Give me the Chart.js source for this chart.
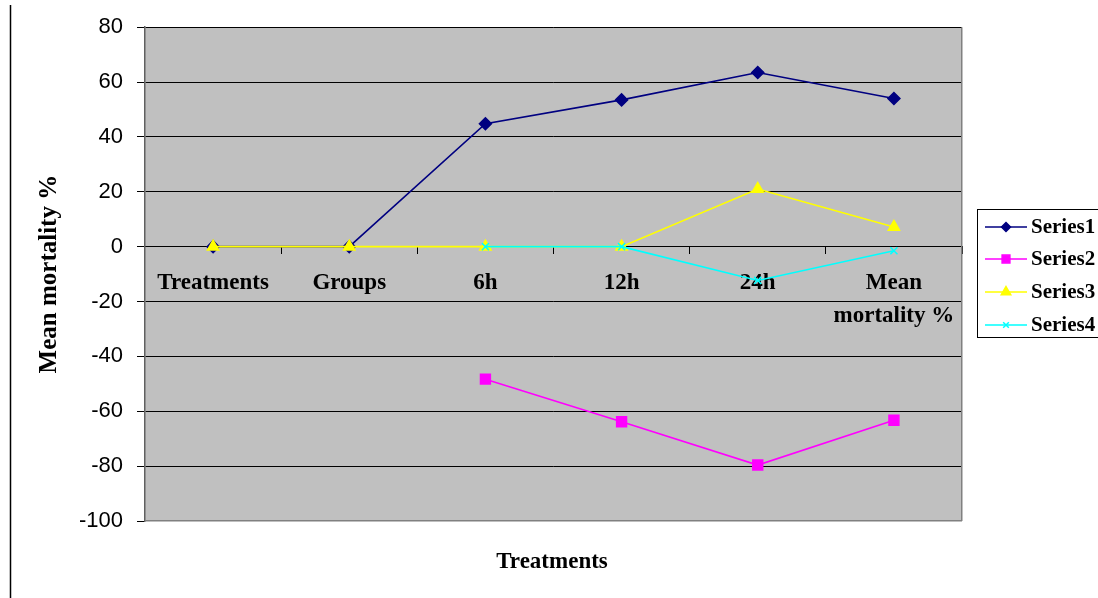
<!DOCTYPE html>
<html>
<head>
<meta charset="utf-8">
<script src="https://cdn.jsdelivr.net/npm/chart.js@4.4.1/dist/chart.umd.min.js"></script>
<style>
html,body{margin:0;padding:0;background:#ffffff;}
canvas{display:block;}
</style>
</head>
<body>
<canvas id="c" width="1098" height="598"></canvas>
<script>
// ---- data ----
const categories = ['Treatments', 'Groups', '6h', '12h', '24h', ['Mean', 'mortality %']];
const series1 = [0, 0, 44.8, 53.5, 63.5, 54.0];
const series2 = [null, null, -48.3, -63.8, -79.6, -63.3];
const series3 = [0, 0, 0, 0, 21.0, 7.2];
const series4 = [null, null, 0, 0, -12.3, -1.5];
const seriesNames = ['Series1', 'Series2', 'Series3', 'Series4'];
const yTickValues = [-100, -80, -60, -40, -20, 0, 20, 40, 60, 80];
const xAxisTitle = 'Treatments';
const yAxisTitle = 'Mean mortality %';

const SERIF = '"Liberation Serif", "Times New Roman", serif';
const SANS = '"Liberation Sans", Arial, sans-serif';

const styles = [
  {color: '#000080', pointStyle: 'rectRot', radius: 6, legendRadius: 4.5, order: 4},
  {color: '#FF00FF', pointStyle: 'rect', radius: 7, legendRadius: 5.5, order: 3},
  {color: '#FFFF00', pointStyle: 'triangle', radius: 6.5, legendRadius: 5.5, order: 2},
  {color: '#00FFFF', pointStyle: 'crossRot', radius: 5, legendRadius: 4, order: 1}
];
const allSeries = [series1, series2, series3, series4];

const datasets = allSeries.map((d, i) => ({
  label: seriesNames[i],
  data: d,
  borderColor: styles[i].color,
  backgroundColor: styles[i].color,
  pointBackgroundColor: styles[i].color,
  pointBorderColor: styles[i].color,
  pointStyle: styles[i].pointStyle,
  pointRadius: styles[i].radius,
  pointBorderWidth: 1.5,
  borderWidth: 1.6,
  tension: 0,
  spanGaps: false,
  order: styles[i].order,
  fill: false
}));

const decorPlugin = {
  id: 'decor',
  beforeDraw(chart) {
    const {ctx, chartArea: a} = chart;
    ctx.save();
    ctx.fillStyle = '#C0C0C0';
    ctx.fillRect(a.left, a.top, a.right - a.left, a.bottom - a.top);
    ctx.restore();
  },
  beforeDatasetsDraw(chart) {
    const {ctx, chartArea: a} = chart;
    ctx.save();
    ctx.strokeStyle = '#808080';
    ctx.lineWidth = 1.5;
    ctx.beginPath();
    ctx.moveTo(Math.round(a.right) - 0.25, a.top);
    ctx.lineTo(Math.round(a.right) - 0.25, a.bottom);
    ctx.moveTo(a.left, Math.round(a.bottom) - 0.25);
    ctx.lineTo(a.right, Math.round(a.bottom) - 0.25);
    ctx.stroke();
    ctx.restore();
  },
  afterDraw(chart) {
    const {ctx} = chart;
    ctx.save();
    // outer left frame line
    ctx.strokeStyle = '#000';
    ctx.lineWidth = 1.5;
    ctx.beginPath();
    ctx.moveTo(10.5, 5);
    ctx.lineTo(10.5, 598);
    ctx.stroke();
    // x axis title
    ctx.fillStyle = '#000';
    ctx.font = 'bold 23px ' + SERIF;
    ctx.textAlign = 'center';
    ctx.textBaseline = 'middle';
    ctx.fillText(xAxisTitle, 552, 562);
    // legend
    const lx = 977, ly = 209, lw = 130, lh = 128;
    ctx.lineWidth = 1;
    ctx.strokeStyle = '#000';
    ctx.fillStyle = '#fff';
    ctx.fillRect(lx, ly, lw, lh);
    ctx.strokeRect(lx + 0.5, ly + 0.5, lw, lh);
    const rowY = [227, 259, 292, 325];
    chart.data.datasets.forEach((ds, i) => {
      const y = rowY[i];
      ctx.strokeStyle = ds.borderColor;
      ctx.lineWidth = 1.6;
      ctx.beginPath();
      ctx.moveTo(985, y);
      ctx.lineTo(1027, y);
      ctx.stroke();
      ctx.fillStyle = ds.borderColor;
      ctx.strokeStyle = ds.borderColor;
      ctx.lineWidth = 1.5;
      Chart.helpers.drawPoint(ctx, {pointStyle: ds.pointStyle, radius: styles[i].legendRadius, rotation: 0, borderWidth: 1.5}, 1006, y);
      ctx.fillStyle = '#000';
      ctx.font = 'bold 21px ' + SERIF;
      ctx.textAlign = 'left';
      ctx.textBaseline = 'middle';
      ctx.fillText(ds.label, 1031, y + 1);
    });
    ctx.restore();
  }
};

new Chart(document.getElementById('c'), {
  type: 'line',
  data: {labels: categories, datasets: datasets},
  plugins: [decorPlugin],
  options: {
    responsive: false,
    animation: false,
    layout: {padding: {left: 0, top: 27, right: 136, bottom: 77}},
    plugins: {legend: {display: false}, tooltip: {enabled: false}, title: {display: false}},
    scales: {
      x: {
        type: 'category',
        position: {y: 0},
        offset: true,
        grid: {display: true, drawOnChartArea: false, drawTicks: true, tickLength: 7, color: '#000', offset: true, lineWidth: 1},
        border: {display: true, color: '#000', width: 1},
        ticks: {
          color: '#000',
          padding: 13,
          maxRotation: 0,
          autoSkip: false,
          font: {family: SERIF, size: 23, weight: 'bold', lineHeight: 1.435}
        }
      },
      y: {
        type: 'linear',
        position: 'left',
        min: -100,
        max: 80,
        afterBuildTicks: (s) => { s.ticks = yTickValues.map(v => ({value: v})); },
        afterFit: (s) => { s.width = 145; },
        grid: {
          color: (c) => (c.tick && c.tick.value === -100) ? 'rgba(0,0,0,0)' : '#000',
          tickColor: '#000',
          tickLength: 8,
          drawTicks: true,
          lineWidth: 1
        },
        border: {display: true, color: '#606060', width: 1.5},
        ticks: {color: '#000', padding: 14, font: {family: SANS, size: 22}},
        title: {
          display: true,
          text: yAxisTitle,
          color: '#000',
          font: {family: SERIF, size: 25, weight: 'bold', lineHeight: 1.2},
          padding: {top: 35, bottom: 0}
        }
      }
    }
  }
});
</script>
</body>
</html>
